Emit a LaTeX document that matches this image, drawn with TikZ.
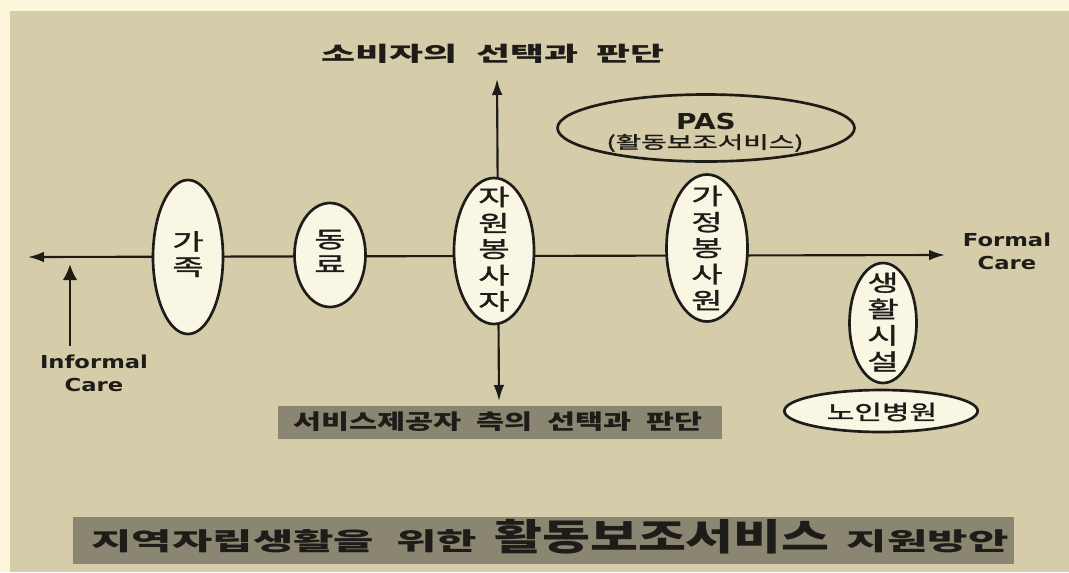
\documentclass[tikz,border=0pt]{standalone}
\usepackage{fontspec}
\usepackage{graphicx}
\newfontfamily\kr{Noto Sans CJK KR}
\newfontfamily\krm{Noto Sans CJK KR}[FakeBold=1.2]
\newfontfamily\lat{DejaVu Sans}[FakeStretch=1.27]
\usetikzlibrary{shapes.geometric,arrows.meta}
\definecolor{bg}{HTML}{D5CCA9}
\definecolor{cream}{HTML}{FBF6DA}
\definecolor{ovalfill}{HTML}{FAF6E4}
\definecolor{gbox}{HTML}{8B8672}
\definecolor{ink}{HTML}{1E1C18}
\newcommand{\hs}[2]{\scalebox{#1}[1]{#2}}
\newcommand{\vst}[2][1.5]{\scalebox{#1}[1]{\begin{tabular}{@{}c@{}}#2\end{tabular}}}
\begin{document}
\begin{tikzpicture}[x=0.75pt,y=-0.75pt,
  oval/.style={ellipse, draw=ink, line width=2pt, fill=ovalfill, inner sep=0pt},
  vtext/.style={font=\krm\fontsize{17}{18.75}\selectfont, inner sep=0pt, text=ink},
  axis/.style={draw=ink, line width=1.6pt},
  latin/.style={font=\lat\bfseries\fontsize{13.4}{17}\selectfont, text=ink, align=center, inner sep=0pt},
  graybox/.style={fill=gbox, draw=none}]
% background
\path[fill=cream] (0,0) rectangle (1069,572);
\path[fill=bg] (10,11) rectangle (1069,572);
\useasboundingbox (0,0) rectangle (1069,572);

% axes
\coordinate (Lend) at (28,257);
\coordinate (Rend) at (945,255);
\coordinate (Tend) at (497,79);
\coordinate (Bend) at (499,401);
\draw[axis, {Latex[length=12pt,width=8pt]}-{Latex[length=12pt,width=8pt]}] (Lend) -- (Rend);
\draw[axis, {Latex[length=12pt,width=8pt]}-{Latex[length=12pt,width=8pt]}] (Tend) -- (Bend);

% top title
\node[font=\kr\bfseries\fontsize{15.4}{18}\selectfont, text=ink, inner sep=0pt] (toptitle) at (493,54)
  {\hs{1.8}{소비자의\hspace{0.5em}선택과\hspace{0.5em}판단}};

% PAS ellipse
\node[oval, fill=bg, minimum width=222.75pt, minimum height=50.25pt] (pas) at (706,128) {};
\node[font=\lat\bfseries\fontsize{16.5}{18}\selectfont, text=ink, inner sep=0pt] (pastxt) at (706,121) {PAS};
\node[font=\krm\fontsize{13}{15}\selectfont, text=ink, inner sep=0pt] (passub) at (705,143) {\hs{1.6}{(활동보조서비스)}};

% ellipses on the axis
\node[oval, minimum width=52.5pt, minimum height=115.5pt] (gajok) at (188,257) {};
\node[vtext] (gajokt) at (188,257) {\vst{가\\족}};

\node[oval, minimum width=53.25pt, minimum height=78pt] (dongryo) at (330,255) {};
\node[vtext] (dongryot) at (330,255) {\vst{동\\료}};

\node[oval, minimum width=60pt, minimum height=109.5pt] (jawon) at (494,251) {};
\node[vtext] (jawont) at (494,252) {\vst{자\\원\\봉\\사\\자}};

\node[oval, minimum width=60.75pt, minimum height=110.25pt] (gajeong) at (707,248) {};
\node[vtext] (gajeongt) at (707,251) {\vst{가\\정\\봉\\사\\원}};

\node[oval, minimum width=50.25pt, minimum height=90pt] (saeng) at (883,323) {};
\node[vtext] (saengt) at (883,325) {\vst{생\\활\\시\\설}};

\node[oval, minimum width=145pt, minimum height=31.5pt] (noin) at (881,411) {};
\node[font=\krm\fontsize{15.5}{18}\selectfont, text=ink, inner sep=0pt] (nointxt) at (882,412) {\hs{1.45}{노인병원}};

% Informal / Formal care
\coordinate (Ibase) at (70,346);
\coordinate (Itip) at (70,264);
\draw[draw=ink, line width=2.2pt, -{Latex[length=12pt,width=11pt]}] (Ibase) -- (Itip);
\node[latin] (informal) at (94,373) {Informal\\Care};
\node[latin] (formal) at (1007,251) {Formal\\Care};

% bottom gray box
\path[graybox] (278,406) rectangle (722,439);
\node[font=\kr\bfseries\fontsize{15.75}{18}\selectfont, text=ink, inner sep=0pt] (providers) at (498,422)
  {\hs{1.45}{서비스제공자\hspace{0.5em}측의\hspace{0.5em}선택과\hspace{0.5em}판단}};

% bottom title box
\path[graybox] (73,517) rectangle (1014,564);
\node[font=\kr\bfseries, text=ink, inner sep=0pt, anchor=base] (bottomtitle) at (550,550)
  {\hs{1.78}{\fontsize{18.5}{20}\selectfont 지역자립생활을\hspace{0.5em}위한}\hspace{13pt}%
   \hs{1.42}{\fontsize{27.5}{28}\selectfont 활동보조서비스}\hspace{13pt}%
   \hs{1.78}{\fontsize{18.5}{20}\selectfont 지원방안}};
\end{tikzpicture}
\end{document}
